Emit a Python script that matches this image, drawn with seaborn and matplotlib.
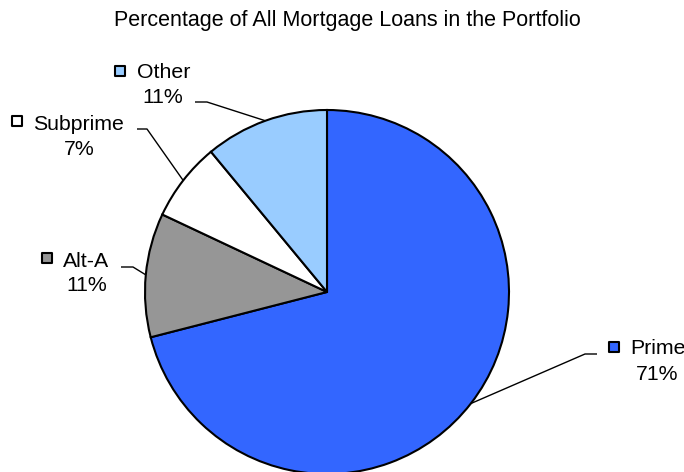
import numpy as np
import matplotlib
matplotlib.use("Agg")
import matplotlib.pyplot as plt
import seaborn as sns

title = "Percentage of All Mortgage Loans in the Portfolio"
categories = ["Prime", "Alt-A", "Subprime", "Other"]
shares = [71, 11, 7, 11]
colors = ["#3366FF", "#969696", "#FFFFFF", "#99CCFF"]

sns.set_style("white")
plt.rcParams["font.family"] = ["Liberation Sans", "DejaVu Sans"]

W, H = 684, 472
fig = plt.figure(figsize=(W / 100, H / 100), dpi=100)
ax = fig.add_axes([0, 0, 1, 1])

def P(x, y):
    return (x, H - y)

cx, cy = P(327, 292)
R = 182
wedges, _ = ax.pie(shares, colors=colors, startangle=90, counterclock=False,
                   center=(cx, cy), radius=R,
                   wedgeprops=dict(edgecolor="black", linewidth=1.5))
ax.set_xlim(0, W)
ax.set_ylim(0, H)
ax.set_aspect("equal")
ax.axis("off")

# label layout (pixel coords, y from top): square centre, name start, pct centre, baselines, elbow points
layout = {
    "Prime":    dict(sq=(614, 347), name=(630, 354), pct=(657, 380), elbow=[(597, 354), (585, 354)]),
    "Alt-A":    dict(sq=(47, 258),  name=(63, 267),  pct=(87, 291),  elbow=[(121, 267), (133, 267)]),
    "Subprime": dict(sq=(17, 121),  name=(33, 130),  pct=(79, 155),  elbow=[(137, 129), (147, 129)]),
    "Other":    dict(sq=(120, 71),  name=(137, 78),  pct=(163, 103), elbow=[(195, 102), (207, 102)]),
}

total = sum(shares)
cum = 0.0
for cat, val, col in zip(categories, shares, colors):
    mid = (cum + val / 2) / total * 360.0
    cum += val
    ex = cx + R * np.sin(np.radians(mid))
    ey = cy + R * np.cos(np.radians(mid))
    L = layout[cat]
    pts = [P(*p) for p in L["elbow"]] + [(ex, ey)]
    ax.plot([p[0] for p in pts], [p[1] for p in pts], color="black", lw=1.0,
            solid_capstyle="butt", clip_on=False)
    sx, sy = P(*L["sq"])
    ax.scatter([sx], [sy], marker="s", s=62, facecolor=col, edgecolor="black",
               linewidths=1.5, zorder=5, clip_on=False)
    nx, ny = P(*L["name"])
    ax.text(nx, ny, cat, ha="left", va="baseline", fontsize=15.3, color="black")
    px, py = P(*L["pct"])
    ax.text(px, py, f"{val}%", ha="center", va="baseline", fontsize=15.3, color="black")

tx, ty = P(347, 26)
ax.text(tx, ty, title, ha="center", va="baseline", fontsize=15.5, color="black")

fig.savefig("out.png", dpi=100)
